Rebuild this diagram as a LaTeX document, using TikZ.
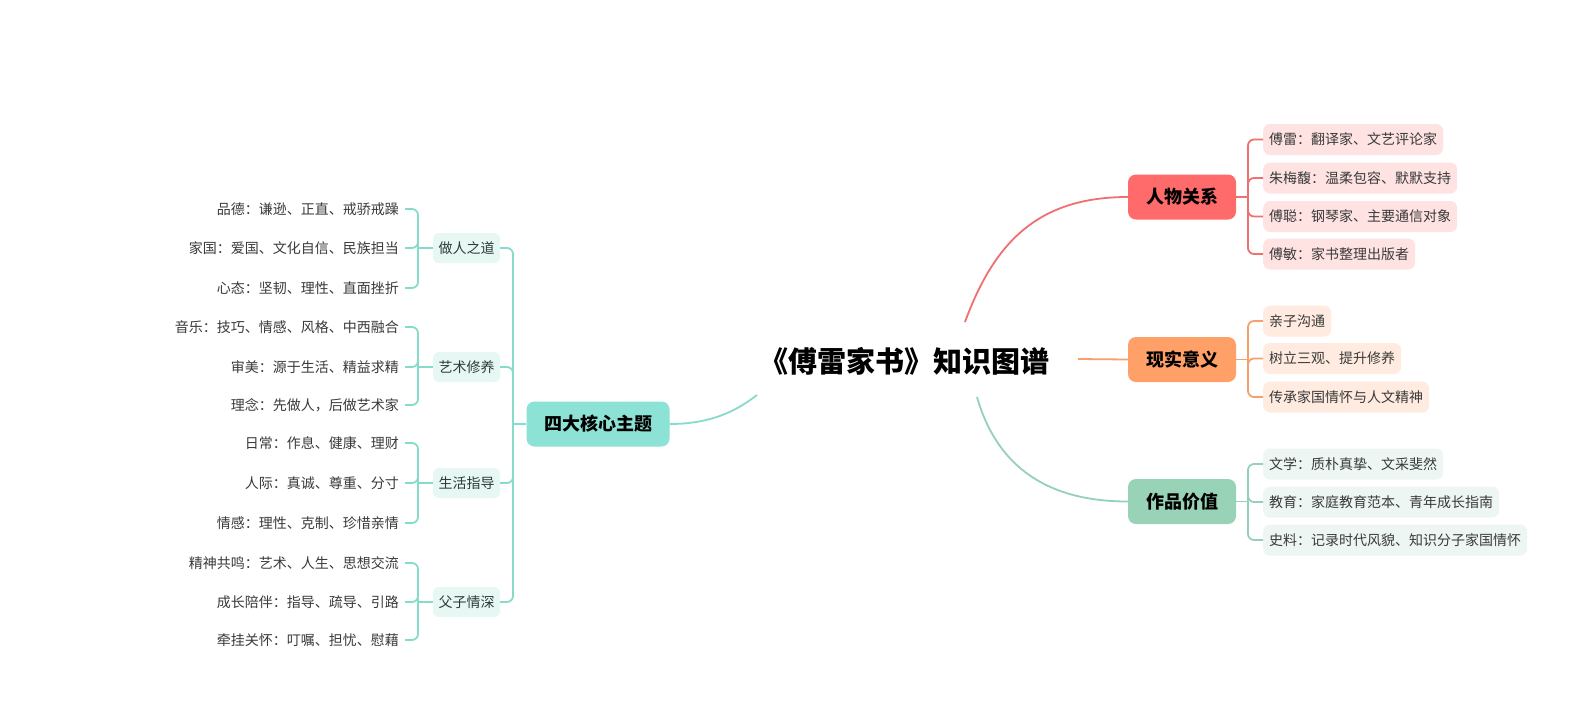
\documentclass[tikz,border=0pt]{standalone}
\usepackage{fontspec}
\setmainfont{Noto Sans CJK SC}
\usetikzlibrary{positioning,calc}
\definecolor{kbTeal}   {RGB}{141,226,214}
\definecolor{kbTealLn} {RGB}{134,220,203}
\definecolor{kbTealL}  {RGB}{231,248,244}
\definecolor{kbRed}    {RGB}{255,107,107}
\definecolor{kbRedLn}  {RGB}{238,112,112}
\definecolor{kbRedL}   {RGB}{255,226,226}
\definecolor{kbOrange} {RGB}{255,160,104}
\definecolor{kbOrangeLn}{RGB}{247,160,110}
\definecolor{kbOrangeL}{RGB}{255,235,224}
\definecolor{kbGreen}  {RGB}{152,211,184}
\definecolor{kbGreenLn}{RGB}{150,208,186}
\definecolor{kbGreenL} {RGB}{237,246,242}
\definecolor{kbInk}    {RGB}{ 58, 58, 58}
\definecolor{kbSubInk} {RGB}{ 45, 59, 56}
\newcommand{\kbLeaf}{\fontsize{14}{16}\selectfont}
\newcommand{\kbHead}{\fontsize{18}{20}\selectfont\bfseries}
\newcommand{\kbTitle}{\fontsize{29}{32}\selectfont\bfseries}

\begin{document}
\begin{tikzpicture}[x=1pt,y=-1pt,
    every node/.style={font=\kbLeaf,align=center},
    title/.style={font=\kbTitle,text=black,inner sep=0pt},
    topic/.style={rectangle,rounded corners=8pt,minimum height=45pt,
                  minimum width=108pt,font=\kbHead,text=black,inner sep=2pt},
    sub/.style={rectangle,rounded corners=6pt,fill=kbTealL,text=kbSubInk,
                minimum height=30pt,inner xsep=5.5pt,inner ysep=0pt},
    lleaf/.style={anchor=east,text=kbInk,inner xsep=6pt,inner ysep=0pt},
    rleaf/.style={anchor=west,rounded corners=7pt,minimum height=31pt,
                  inner xsep=6pt,inner ysep=0pt,text=kbInk},
    link/.style={line width=1.8pt,rounded corners=6pt}
  ]
  \fill[white] (0,0) rectangle (1591,721);
  % Title
  \node[title] (root) at (904,361) {《傅雷家书》知识图谱};
  \coordinate (rootW) at (757,395);
  \coordinate (rootN) at (965,322);
  \coordinate (rootE) at (1078,359);
  \coordinate (rootS) at (977,397);
  % Left: core themes
  \node[topic,fill=kbTeal,minimum width=143pt] (core) at (598,424) {四大核心主题};
  \node[sub] (zr) at (466.5,248) {做人之道};
  \node[sub] (ys) at (466.5,367) {艺术修养};
  \node[sub] (sh) at (466.5,483) {生活指导};
  \node[sub] (fz) at (466.5,602) {父子情深};
  \node[lleaf] (zr1) at (405,209) {品德：谦逊、正直、戒骄戒躁};
  \node[lleaf] (zr2) at (405,248) {家国：爱国、文化自信、民族担当};
  \node[lleaf] (zr3) at (405,288) {心态：坚韧、理性、直面挫折};
  \node[lleaf] (ys1) at (405,327) {音乐：技巧、情感、风格、中西融合};
  \node[lleaf] (ys2) at (405,367) {审美：源于生活、精益求精};
  \node[lleaf] (ys3) at (405,405) {理念：先做人，后做艺术家};
  \node[lleaf] (sh1) at (405,443) {日常：作息、健康、理财};
  \node[lleaf] (sh2) at (405,483) {人际：真诚、尊重、分寸};
  \node[lleaf] (sh3) at (405,523) {情感：理性、克制、珍惜亲情};
  \node[lleaf] (fz1) at (405,563) {精神共鸣：艺术、人生、思想交流};
  \node[lleaf] (fz2) at (405,602) {成长陪伴：指导、疏导、引路};
  \node[lleaf] (fz3) at (405,640) {牵挂关怀：叮嘱、担忧、慰藉};
  % Right: topics
  \node[topic,fill=kbRed] (rw) at (1182,197) {人物关系};
  \node[topic,fill=kbOrange] (xs) at (1182,359.5) {现实意义};
  \node[topic,fill=kbGreen] (zp) at (1182,501.5) {作品价值};
  \node[rleaf,fill=kbRedL] (rw1) at (1263,139.5) {傅雷：翻译家、文艺评论家};
  \node[rleaf,fill=kbRedL] (rw2) at (1263,178) {朱梅馥：温柔包容、默默支持};
  \node[rleaf,fill=kbRedL] (rw3) at (1263,216.5) {傅聪：钢琴家、主要通信对象};
  \node[rleaf,fill=kbRedL] (rw4) at (1263,254) {傅敏：家书整理出版者};
  \node[rleaf,fill=kbOrangeL] (xs1) at (1263,321) {亲子沟通};
  \node[rleaf,fill=kbOrangeL] (xs2) at (1263,358.5) {树立三观、提升修养};
  \node[rleaf,fill=kbOrangeL] (xs3) at (1263,397) {传承家国情怀与人文精神};
  \node[rleaf,fill=kbGreenL] (zp1) at (1263,464) {文学：质朴真挚、文采斐然};
  \node[rleaf,fill=kbGreenL] (zp2) at (1263,502) {教育：家庭教育范本、青年成长指南};
  \node[rleaf,fill=kbGreenL] (zp3) at (1263,540) {史料：记录时代风貌、知识分子家国情怀};
  % Junctions
  \coordinate (corej) at (513,424);
  \coordinate (zrj) at (418,248);
  \coordinate (ysj) at (418,367);
  \coordinate (shj) at (418,483);
  \coordinate (fzj) at (418,602);
  \coordinate (rwj) at (1248,197);
  \coordinate (xsj) at (1248,359.5);
  \coordinate (zpj) at (1248,501.5);
  % Connectors from the title
  \draw[line width=1.8pt,kbTealLn] (core.east) .. controls (715,424) and (740,408) .. (rootW);
  \draw[line width=1.8pt,kbRedLn] (rootN) .. controls (995,240) and (1040,197) .. (rw.west);
  \draw[line width=1.8pt,kbOrangeLn] (rootE) -- (xs.west);
  \draw[line width=1.8pt,kbGreenLn] (rootS) .. controls (995,460) and (1040,501.5) .. (zp.west);
  % Left tree
  \draw[link,kbTealLn] (core.west) -- (corej);
  \foreach \b in {zr,ys,sh,fz}
    \draw[link,kbTealLn] (corej) |- (\b.east);
  \foreach \b in {zr,ys,sh,fz}{
    \draw[link,kbTealLn] (\b.west) -- (\b j);
    \foreach \i in {1,2,3}
      \draw[link,kbTealLn] (\b j) |- (\b\i.east);
  }
  % Right tree
  \draw[link,kbRedLn] (rw.east) -- (rwj);
  \foreach \i in {1,...,4}
    \draw[link,kbRedLn] (rwj) |- (rw\i.west);
  \draw[link,kbOrangeLn] (xs.east) -- (xsj);
  \foreach \i in {1,2,3}
    \draw[link,kbOrangeLn] (xsj) |- (xs\i.west);
  \draw[link,kbGreenLn] (zp.east) -- (zpj);
  \foreach \i in {1,2,3}
    \draw[link,kbGreenLn] (zpj) |- (zp\i.west);
\end{tikzpicture}
\end{document}
